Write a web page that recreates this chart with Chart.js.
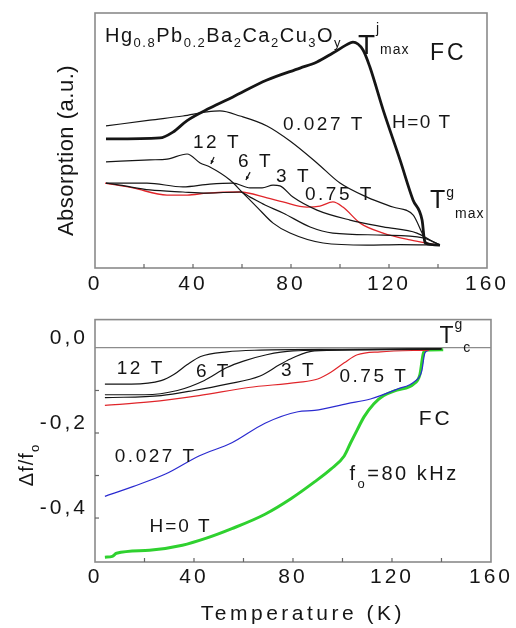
<!DOCTYPE html>
<html>
<head>
<meta charset="utf-8">
<script src="https://cdn.jsdelivr.net/npm/chart.js@4.4.1/dist/chart.umd.min.js"></script>
<style>
html, body { margin: 0; padding: 0; background: #fff; }
#top { position: absolute; left: 0; top: 0; width: 516px; height: 300px; }
#bottom { position: absolute; left: 0; top: 300px; width: 516px; height: 328px; }
</style>
</head>
<body>
<div id="top"><canvas id="absChart"></canvas></div>
<div id="bottom"><canvas id="dfChart"></canvas></div>
<script>
/*==== data: microwave absorption (top panel, a.u.) ====*/
const absT_H0 = [4.5, 26.5, 31.8, 37.6, 46.9, 56.3, 70.2, 83.7, 90.6, 97.1, 104.1, 105.3, 109.4, 112.2, 117.6, 124.5, 129.8, 133.5, 134.7, 140.8];
const absA_H0 = [5.06, 5.10, 5.33, 5.78, 6.27, 6.71, 7.37, 7.84, 8.08, 8.43, 8.82, 8.86, 8.55, 7.88, 6.20, 4.24, 2.67, 1.88, 0.98, 0.90];

const absT_027 = [4.5, 22.4, 35.9, 45.7, 51.0, 59.2, 70.2, 79.6, 90.6, 100, 111, 121.6, 129.8, 133.5, 135.5, 140.8];
const absA_027 = [5.57, 5.80, 5.96, 6.12, 6.16, 5.96, 5.57, 4.98, 4.12, 3.33, 2.78, 2.39, 2.08, 1.37, 0.98, 0.90];

const absT_12 = [4.5, 22.4, 29.4, 37.6, 42.9, 46.9, 55.1, 60.4, 66.1, 72.7, 79.6, 93.1, 111, 124.5, 140.8];
const absA_12 = [4.16, 4.24, 4.27, 4.47, 4.12, 3.96, 3.45, 2.94, 2.39, 1.76, 1.37, 0.98, 0.90, 0.92, 0.90];

const absT_6 = [4.5, 10.2, 22.4, 35.9, 45.7, 59.2, 63.3, 69.4, 76.7, 87.8, 97.1, 117.6, 133.9, 140.8];
const absA_6 = [3.33, 3.25, 3.06, 2.98, 2.94, 2.98, 2.78, 2.47, 2.16, 1.61, 1.37, 1.29, 1.18, 0.90];

const absT_3 = [4.5, 21.2, 35.9, 46.9, 56.3, 63.3, 68.2, 72.7, 75.5, 80.8, 90.6, 104.1, 117.6, 131.4, 136.7, 140.8];
const absA_3 = [3.33, 3.33, 3.18, 3.29, 3.33, 3.14, 3.14, 3.25, 3.22, 2.78, 2.27, 1.88, 1.61, 1.37, 1.10, 0.90];

const absT_075 = [4.1, 15.5, 29.4, 37.6, 45.7, 59.2, 70.2, 76.7, 86.5, 91.8, 97.1, 101.2, 108.2, 117.6, 128.6, 139.6];
const absA_075 = [3.33, 3.14, 2.86, 2.86, 2.94, 2.98, 2.75, 2.59, 2.39, 2.43, 2.59, 2.39, 1.76, 1.37, 1.10, 0.90];

/*==== data: frequency shift (bottom panel) ====*/
const dfT_H0 = [4, 7, 8.7, 22, 35.3, 44.7, 55.3, 68.7, 79.3, 88.7, 95.3, 100.7, 103.3, 106, 108.7, 112.7, 116.7, 122, 128.7, 131.3, 132.7, 134, 140.7];
const dfV_H0 = [-0.492, -0.490, -0.483, -0.476, -0.464, -0.448, -0.425, -0.391, -0.354, -0.315, -0.285, -0.254, -0.223, -0.192, -0.162, -0.131, -0.112, -0.099, -0.085, -0.062, -0.012, -0.005, -0.004];

const dfT_027 = [4, 15.3, 28.7, 42, 55.3, 68.7, 82, 88.7, 102, 111.3, 122, 129.3, 132, 133.3, 135];
const dfV_027 = [-0.349, -0.326, -0.296, -0.254, -0.223, -0.177, -0.150, -0.147, -0.131, -0.120, -0.097, -0.078, -0.055, -0.012, -0.005];

const dfT_075 = [4, 22, 42, 62, 82, 90, 95.3, 100.7, 106, 115.3, 135];
const dfV_075 = [-0.135, -0.127, -0.112, -0.093, -0.081, -0.073, -0.057, -0.035, -0.016, -0.009, -0.005];

const dfT_12 = [4, 14.7, 26.7, 32, 37.3, 42.7, 53.3, 66.7, 100, 140];
const dfV_12 = [-0.085, -0.085, -0.077, -0.062, -0.039, -0.020, -0.009, -0.005, -0.003, -0.002];

const dfT_6 = [4, 20, 33.3, 44, 53.3, 60, 69.3, 80, 110, 140];
const dfV_6 = [-0.110, -0.110, -0.100, -0.077, -0.046, -0.031, -0.016, -0.007, -0.004, -0.002];

const dfT_3 = [4, 26.7, 40, 53.3, 66.7, 74.7, 80, 88.7, 120, 140];
const dfV_3 = [-0.117, -0.112, -0.100, -0.085, -0.066, -0.039, -0.023, -0.007, -0.004, -0.002];

/*==== axes ====*/
const tempMin = 0, tempMax = 160, tempStep = 20;
const absMin = 0, absMax = 10;
const dfMin = -0.5034, dfMax = 0.0667, dfStep = 0.1;

const FONT = '"Liberation Sans", Arial, sans-serif';
const INK = '#151515';

function pts(xs, ys) {
    return xs.map(function (x, i) { return { x: x, y: ys[i] }; });
}

function line(label, xs, ys, color, width) {
    return {
        label: label,
        data: pts(xs, ys),
        borderColor: color,
        borderWidth: width,
        pointRadius: 0,
        fill: false,
        cubicInterpolationMode: 'monotone'
    };
}

// text with sub/superscripts, parts = [[text, kind]]
function drawRich(ctx, x, y, note) {
    let cx = x;
    note.parts.forEach(function (p) {
        let s = note.size, dy = 0;
        if (p[1] === 'sub') { s = note.sub; dy = note.subDy; }
        if (p[1] === 'sup') { s = note.sub; dy = note.supDy; }
        ctx.font = s + 'px ' + FONT;
        ctx.fillText(p[0], cx, y + dy);
        cx += ctx.measureText(p[0]).width;
    });
}

/*==== annotations ====*/
const topNotes = [
    { x: 4.1, y: 8.86, size: 20, sub: 13, subDy: 5, supDy: 0, sp: 1.5,
      parts: [['Hg', ''], ['0.8', 'sub'], ['Pb', ''], ['0.2', 'sub'], ['Ba', ''], ['2', 'sub'], ['Ca', ''], ['2', 'sub'], ['Cu', ''], ['3', 'sub'], ['O', ''], ['y', 'sub']] },
    { x: 107.3, y: 8.39, size: 28, sub: 14, subDy: 0, supDy: -21, sp: 1, parts: [['T', ''], ['j', 'sup'], ['max', 'sub']] },
    { x: 136.7, y: 8.16, size: 23, sub: 13, subDy: 0, supDy: 0, sp: 3, parts: [['FC', '']] },
    { x: 76.7, y: 5.41, size: 19, sub: 13, subDy: 0, supDy: 0, sp: 2.5, parts: [['0.027 T', '']] },
    { x: 121.2, y: 5.49, size: 19, sub: 13, subDy: 0, supDy: 0, sp: 1.5, parts: [['H=0 T', '']] },
    { x: 40.0, y: 4.71, size: 19, sub: 13, subDy: 0, supDy: 0, sp: 2.5, parts: [['12 T', '']] },
    { x: 58.4, y: 3.96, size: 19, sub: 13, subDy: 0, supDy: 0, sp: 2.5, parts: [['6 T', '']] },
    { x: 73.9, y: 3.37, size: 19, sub: 13, subDy: 0, supDy: 0, sp: 2.5, parts: [['3 T', '']] },
    { x: 85.7, y: 2.67, size: 19, sub: 13, subDy: 0, supDy: 0, sp: 2.5, parts: [['0.75 T', '']] },
    { x: 136.7, y: 2.35, size: 25, sub: 14, subDy: 10, supDy: -11, sp: 1, parts: [['T', ''], ['g', 'sup'], ['max', 'sub']] }
];
const topArrows = [[48.6, 4.35, 47.3, 4.08], [63.3, 3.76, 61.6, 3.45]];

const bottomNotes = [
    { x: 139.2, y: 0.0115, size: 23, sub: 14, subDy: 9, supDy: -14, sp: 1, parts: [['T', ''], ['g', 'sup'], ['c', 'sub']] },
    { x: 8.8, y: -0.062, size: 19, sub: 13, subDy: 0, supDy: 0, sp: 2.5, parts: [['12 T', '']] },
    { x: 40.8, y: -0.069, size: 19, sub: 13, subDy: 0, supDy: 0, sp: 2.5, parts: [['6 T', '']] },
    { x: 75.2, y: -0.067, size: 19, sub: 13, subDy: 0, supDy: 0, sp: 2.5, parts: [['3 T', '']] },
    { x: 98.8, y: -0.080, size: 19, sub: 13, subDy: 0, supDy: 0, sp: 2.5, parts: [['0.75 T', '']] },
    { x: 130.8, y: -0.182, size: 21, sub: 13, subDy: 0, supDy: 0, sp: 3, parts: [['FC', '']] },
    { x: 8.0, y: -0.269, size: 19, sub: 13, subDy: 0, supDy: 0, sp: 2.5, parts: [['0.027 T', '']] },
    { x: 102.8, y: -0.310, size: 20, sub: 13, subDy: 8, supDy: 0, sp: 2.5, parts: [['f', ''], ['o', 'sub'], ['=80 kHz', '']] },
    { x: 22.0, y: -0.434, size: 19, sub: 13, subDy: 0, supDy: 0, sp: 2, parts: [['H=0 T', '']] }
];

/*==== plugin: frame, inward ticks, labels ====*/
const figurePlugin = {
    id: 'figure',
    beforeLayout: function (chart) { chart.ctx.letterSpacing = '3px'; },
    beforeDraw: function (chart) { chart.ctx.letterSpacing = '3px'; },
    afterDraw: function (chart, args, opts) {
        const ctx = chart.ctx, a = chart.chartArea;
        const xs = chart.scales.x, ys = chart.scales.y;
        ctx.save();
        ctx.letterSpacing = '0px';
        ctx.strokeStyle = '#8a8a8a';
        ctx.lineWidth = 1.6;
        ctx.strokeRect(a.left, a.top, a.right - a.left, a.bottom - a.top);

        ctx.strokeStyle = '#666';
        ctx.lineWidth = 1.2;
        xs.ticks.forEach(function (t) {
            const p = xs.getPixelForValue(t.value);
            if (p < a.left + 3 || p > a.right - 3) return;
            ctx.beginPath(); ctx.moveTo(p, a.bottom); ctx.lineTo(p, a.bottom - 4); ctx.stroke();
        });
        if (opts.yTicks) {
            ys.ticks.forEach(function (t) {
                const k = Math.round(t.value * 10);
                if (Math.abs(t.value * 10 - k) > 1e-6 || k === 0) return;
                const p = ys.getPixelForValue(t.value);
                if (p < a.top + 3 || p > a.bottom - 3) return;
                ctx.beginPath(); ctx.moveTo(a.left, p); ctx.lineTo(a.left + 4, p); ctx.stroke();
            });
        }

        ctx.fillStyle = INK;
        ctx.textAlign = 'left';
        ctx.textBaseline = 'alphabetic';
        (opts.notes || []).forEach(function (n) {
            ctx.letterSpacing = n.sp + 'px';
            drawRich(ctx, xs.getPixelForValue(n.x), ys.getPixelForValue(n.y), n);
        });

        ctx.strokeStyle = INK;
        ctx.lineWidth = 1.2;
        (opts.arrows || []).forEach(function (r) {
            const x1 = xs.getPixelForValue(r[0]), y1 = ys.getPixelForValue(r[1]);
            const x2 = xs.getPixelForValue(r[2]), y2 = ys.getPixelForValue(r[3]);
            const ang = Math.atan2(y2 - y1, x2 - x1);
            ctx.beginPath(); ctx.moveTo(x1, y1); ctx.lineTo(x2, y2); ctx.stroke();
            ctx.beginPath();
            ctx.moveTo(x2, y2);
            ctx.lineTo(x2 - 4 * Math.cos(ang - 0.45), y2 - 4 * Math.sin(ang - 0.45));
            ctx.lineTo(x2 - 4 * Math.cos(ang + 0.45), y2 - 4 * Math.sin(ang + 0.45));
            ctx.closePath(); ctx.fillStyle = INK; ctx.fill();
        });

        // axis titles
        if (opts.xTitle) {
            ctx.letterSpacing = '3.5px';
            ctx.font = '21px ' + FONT;
            ctx.textAlign = 'center';
            ctx.fillText(opts.xTitle, xs.getPixelForValue(84), a.bottom + 58);
        }
        if (opts.yTitle) {
            ctx.save();
            ctx.translate(a.left - 22, (a.top + a.bottom) / 2 + 10);
            ctx.rotate(-Math.PI / 2);
            ctx.letterSpacing = '0.5px';
            ctx.font = '22px ' + FONT;
            ctx.textAlign = 'center';
            ctx.fillText(opts.yTitle, 0, 0);
            ctx.restore();
        }
        if (opts.yRich) {
            ctx.save();
            ctx.translate(a.left - 62, ys.getPixelForValue(-0.325));
            ctx.rotate(-Math.PI / 2);
            ctx.letterSpacing = '1px';
            ctx.textAlign = 'left';
            drawRich(ctx, 0, 0, opts.yRich);
            ctx.restore();
        }
        ctx.restore();
    }
};

function tempAxis(height, pad) {
    return {
        type: 'linear',
        min: tempMin,
        max: tempMax,
        grid: { display: false, drawTicks: false },
        border: { display: false },
        ticks: {
            stepSize: tempStep,
            autoSkip: false,
            maxRotation: 0,
            padding: pad,
            color: INK,
            font: { family: FONT, size: 21 },
            callback: function (v) { return v % 40 === 0 ? String(v) : ''; }
        },
        afterFit: function (s) { s.height = height; }
    };
}

/*==== top chart ====*/
const absConfig = {
    type: 'line',
    data: {
        datasets: [
            line('H=0 T', absT_H0, absA_H0, INK, 2.8),
            line('0.027 T', absT_027, absA_027, INK, 1.2),
            line('12 T', absT_12, absA_12, INK, 1.2),
            line('6 T', absT_6, absA_6, INK, 1.2),
            line('3 T', absT_3, absA_3, INK, 1.2),
            line('0.75 T', absT_075, absA_075, '#e0252a', 1.3)
        ]
    },
    options: {
        responsive: true,
        maintainAspectRatio: false,
        animation: false,
        layout: { padding: { left: 0, right: 29, top: 13, bottom: 0 } },
        plugins: {
            legend: { display: false },
            tooltip: { enabled: false },
            figure: { notes: topNotes, arrows: topArrows, yTitle: 'Absorption (a.u.)', yTicks: false }
        },
        scales: {
            x: tempAxis(32, 4),
            y: {
                min: absMin,
                max: absMax,
                grid: { display: false, drawTicks: false },
                border: { display: false },
                ticks: { display: false },
                afterFit: function (s) { s.width = 95; }
            }
        }
    },
    plugins: [figurePlugin]
};

/*==== bottom chart ====*/
const dfConfig = {
    type: 'line',
    data: {
        datasets: [
            line('12 T', dfT_12, dfV_12, INK, 1.2),
            line('6 T', dfT_6, dfV_6, INK, 1.2),
            line('3 T', dfT_3, dfV_3, INK, 1.2),
            line('0.75 T', dfT_075, dfV_075, '#e0252a', 1.2),
            line('0.027 T', dfT_027, dfV_027, '#2b2bd0', 1.2),
            line('H=0 T', dfT_H0, dfV_H0, '#2fd12f', 3)
        ]
    },
    options: {
        responsive: true,
        maintainAspectRatio: false,
        animation: false,
        layout: { padding: { left: 0, right: 21, top: 14, bottom: 0 } },
        plugins: {
            legend: { display: false },
            tooltip: { enabled: false },
            figure: {
                notes: bottomNotes,
                yTicks: true,
                xTitle: 'Temperature (K)',
                yRich: { size: 20, sub: 13, subDy: 6, supDy: 0, parts: [['\u0394f/f', ''], ['o', 'sub']] }
            }
        },
        scales: {
            x: tempAxis(66, 3),
            y: {
                min: dfMin,
                max: dfMax,
                grid: {
                    drawTicks: false,
                    lineWidth: 1.2,
                    color: function (c) {
                        return (c.tick && Math.abs(c.tick.value) < 1e-9) ? '#8c8c8c' : 'rgba(0,0,0,0)';
                    }
                },
                border: { display: false },
                ticks: {
                    stepSize: dfStep,
                    autoSkip: false,
                    padding: 7,
                    labelOffset: -10,
                    color: INK,
                    font: { family: FONT, size: 21 },
                    callback: function (v) {
                        const k = Math.round(v * 10);
                        if (Math.abs(v * 10 - k) > 1e-6 || k % 2 !== 0) return '';
                        return (k / 10).toFixed(1).replace('.', ',');
                    }
                },
                afterFit: function (s) { s.width = 95; }
            }
        }
    },
    plugins: [figurePlugin]
};

new Chart(document.getElementById('absChart'), absConfig);
new Chart(document.getElementById('dfChart'), dfConfig);
</script>
</body>
</html>
